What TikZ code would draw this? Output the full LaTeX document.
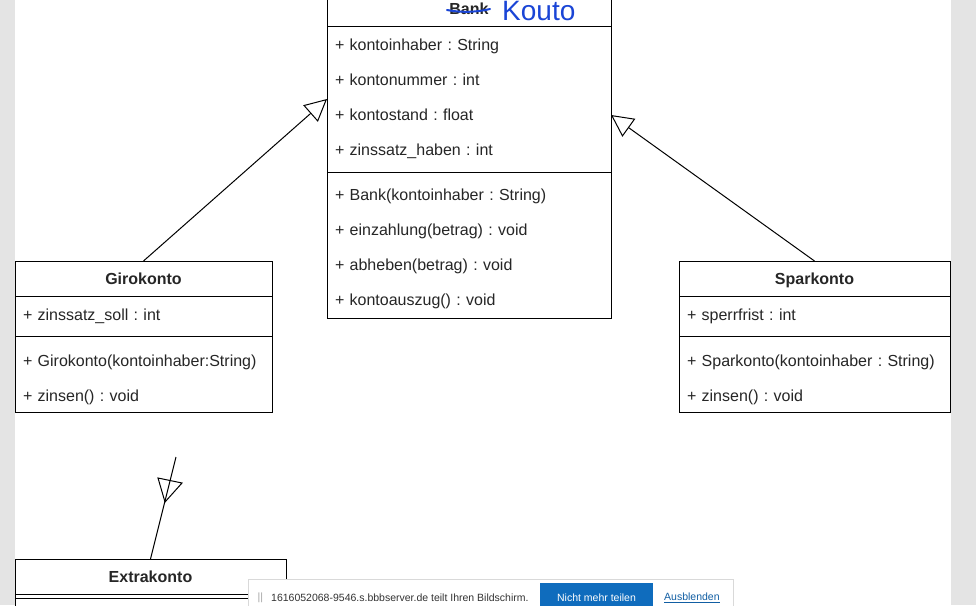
\documentclass[tikz,border=0pt]{standalone}
\usepackage{fontspec}
\setmainfont{Liberation Sans}
\usetikzlibrary{arrows.meta,positioning}
\frenchspacing

\definecolor{pagegray}{HTML}{E4E4E4}
\definecolor{penblue}{HTML}{1A45D6}
\definecolor{btnblue}{HTML}{0F6CBD}
\definecolor{linkblue}{HTML}{115EA3}

\begin{document}
\begin{tikzpicture}[
  x=1pt, y=-1pt,
  node distance=0pt,
  part/.style={draw, line width=1pt, inner sep=0pt, outer sep=0pt, text=black!85},
  classhead/.style={part, minimum height=35pt, text height=15.5pt, text depth=3.5pt, font=\bfseries\fontsize{16}{19}\selectfont},
  classbody/.style={part, align=left, inner xsep=8pt, font=\fontsize{16}{35}\selectfont},
  inherit/.style={-{Triangle[open, length=22pt, width=22pt, fill=white]}, line width=1pt},
  bartext/.style={anchor=west, font=\fontsize{10.5}{12}\selectfont}
]
  \clip (0,0) rectangle (976,605);
  \useasboundingbox (0,0) rectangle (976,605);
  \fill[white] (0,0) rectangle (976,605);
  \fill[pagegray] (0,0) rectangle (15,605);
  \fill[pagegray] (951,0) rectangle (976,605);

  % Bank / Konto
  \node[classhead, minimum width=284pt] (bank) at (469,8.5) {Bank};
  \node[classbody, minimum width=284pt, text width=268pt, minimum height=146pt, below=of bank] (bank-attr)
    {+ kontoinhaber : String\\+ kontonummer : int\\+ kontostand : float\\+ zinssatz\_haben : int};
  \node[classbody, minimum width=284pt, text width=268pt, minimum height=146pt, below=of bank-attr] (bank-ops)
    {\rule{0pt}{19pt}+ Bank(kontoinhaber : String)\\+ einzahlung(betrag) : void\\+ abheben(betrag) : void\\+ kontoauszug() : void};
  \draw[penblue, line width=2pt, line cap=round] (447,10) .. controls (462,13) and (478,12) .. (490,9);
  \node[anchor=west, text=penblue, font=\fontsize{28}{28}\selectfont, inner sep=0pt] (kouto) at (502,11) {Kouto};

  % Girokonto
  \node[classhead, minimum width=257pt] (giro) at (143.5,278.5) {Girokonto};
  \node[classbody, minimum width=257pt, text width=241pt, minimum height=40pt, below=of giro] (giro-attr)
    {+ zinssatz\_soll : int};
  \node[classbody, minimum width=257pt, text width=241pt, minimum height=76pt, below=of giro-attr] (giro-ops)
    {\rule{0pt}{23pt}+ Girokonto(kontoinhaber:String)\\+ zinsen() : void};

  % Sparkonto
  \node[classhead, minimum width=271pt] (spar) at (814.5,278.5) {Sparkonto};
  \node[classbody, minimum width=271pt, text width=255pt, minimum height=40pt, below=of spar] (spar-attr)
    {+ sperrfrist : int};
  \node[classbody, minimum width=271pt, text width=255pt, minimum height=76pt, below=of spar-attr] (spar-ops)
    {\rule{0pt}{23pt}+ Sparkonto(kontoinhaber : String)\\+ zinsen() : void};

  % Extrakonto
  \node[classhead, minimum width=271pt] (extra) at (150.5,576.5) {Extrakonto};
  \node[classbody, minimum width=271pt, text width=255pt, minimum height=4pt, below=of extra] (extra-attr) {};
  \node[classbody, minimum width=271pt, text width=255pt, minimum height=40pt, below=of extra-attr] (extra-ops) {};

  % Vererbung
  \draw[inherit] (giro.north) -- (bank-attr.west);
  \draw[inherit] (spar.north) -- ([yshift=-16pt]bank-attr.east);
  \coordinate (loose) at (176,457);
  \draw[line width=1pt] (extra.north) -- (loose);
  \draw[line width=1pt] (158,478) -- (182,483) -- (165,502) -- cycle;

  % Leiste
  \node[draw=black!15, fill=white, minimum width=485pt, minimum height=34pt, anchor=north west, inner sep=0pt] (bar) at (248,579) {};
  \node[bartext, text=black!35] (grip) at (254,598) {||};
  \node[bartext, text=black!80, inner sep=0pt] (msg) at (271,598) {1616052068-9546.s.bbbserver.de teilt Ihren Bildschirm.};
  \node[fill=btnblue, minimum width=113pt, minimum height=30pt, anchor=north west, inner sep=0pt] (btn) at (540,583) {};
  \node[font=\fontsize{10.5}{12}\selectfont, text=white] (btn-text) at (596.5,598) {Nicht mehr teilen};
  \node[bartext, text=linkblue, inner sep=0pt] (hide) at (664,598) {\underline{Ausblenden}};
\end{tikzpicture}
\end{document}
